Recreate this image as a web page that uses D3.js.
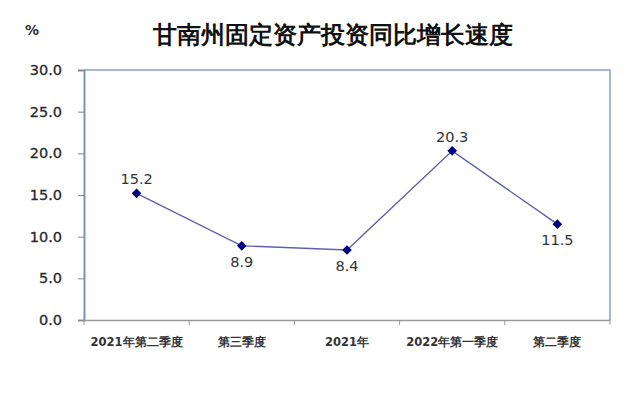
<!DOCTYPE html>
<html>
<head>
<meta charset="utf-8">
<script src="https://cdn.jsdelivr.net/npm/d3@7"></script>
<style>
  body { margin: 0; background: #fff; }
  text { font-family: "DejaVu Sans", sans-serif; }
</style>
</head>
<body>
<div class="chart"></div>
<script>
// chart data
const categories = ["2021年第二季度", "第三季度", "2021年", "2022年第一季度", "第二季度"];
const growth = [15.2, 8.9, 8.4, 20.3, 11.5];
const labelAbove = [true, false, false, true, false];
const yTicks = [0, 5, 10, 15, 20, 25, 30];

const width = 641, height = 396;
const plot = { left: 84, right: 610, top: 70, bottom: 320 };

const svg = d3.select(".chart")
    .append("svg")
    .attr("width", width)
    .attr("height", height)
    .attr("viewBox", [0, 0, width, height]);

const x = d3.scaleBand()
    .domain(categories)
    .range([plot.left, plot.right]);

const y = d3.scaleLinear()
    .domain([0, 30])
    .range([plot.bottom, plot.top]);

// title and unit
svg.append("text")
    .attr("x", 333).attr("y", 43)
    .attr("text-anchor", "middle")
    .attr("font-family", "Noto Sans CJK SC")
    .attr("font-size", 23.5)
    .attr("font-weight", "bold")
    .attr("fill", "#111")
    .text("甘南州固定资产投资同比增长速度");

svg.append("text")
    .attr("x", 25).attr("y", 35)
    .attr("font-size", 14)
    .attr("font-weight", "bold")
    .attr("fill", "#333")
    .text("%");

// plot frame (top and right)
svg.append("path")
    .attr("d", `M${plot.left},${plot.top}H${plot.right}V${plot.bottom}`)
    .attr("fill", "none")
    .attr("stroke", "#8aa2c4")
    .attr("stroke-width", 1.5);

// y axis
const yAxis = svg.append("g")
    .attr("transform", `translate(${plot.left},0)`)
    .call(d3.axisLeft(y).tickValues(yTicks).tickFormat(d3.format(".1f")).tickSize(6).tickPadding(16));
yAxis.select(".domain").attr("stroke", "#7f93b0").attr("stroke-width", 2);
yAxis.selectAll(".tick line").attr("stroke", "#888");
yAxis.selectAll(".tick text")
    .attr("font-family", "DejaVu Sans")
    .attr("font-size", 14.5)
    .attr("fill", "#2a2a2a")
    .attr("stroke", "#2a2a2a")
    .attr("stroke-width", 0.3);

// x axis
const xAxis = svg.append("g")
    .attr("transform", `translate(0,${plot.bottom})`)
    .call(d3.axisBottom(x).tickSize(0).tickPadding(18));
xAxis.select(".domain").attr("stroke", "#999").attr("stroke-width", 1.5);
xAxis.selectAll(".tick text")
    .attr("font-family", "Noto Sans CJK SC")
    .attr("font-size", 11.5)
    .attr("font-weight", "bold")
    .attr("fill", "#333");

// category boundary ticks
const bounds = categories.map(c => x(c)).concat([plot.right]);
svg.append("g").selectAll("line")
    .data(bounds)
    .join("line")
    .attr("x1", d => d).attr("x2", d => d)
    .attr("y1", plot.bottom).attr("y2", plot.bottom + 5)
    .attr("stroke", "#999");

const cx = c => x(c) + x.bandwidth() / 2;

// series line
const line = d3.line()
    .x((d, i) => cx(categories[i]))
    .y(d => y(d));

svg.append("path")
    .datum(growth)
    .attr("d", line)
    .attr("fill", "none")
    .attr("stroke", "#5f5fae")
    .attr("stroke-width", 1.4);

// diamond markers
svg.append("g").selectAll("path")
    .data(growth)
    .join("path")
    .attr("transform", (d, i) => `translate(${cx(categories[i])},${y(d)})`)
    .attr("d", d3.symbol(d3.symbolDiamond2, 60))
    .attr("fill", "#000080");

// value labels
svg.append("g").selectAll("text")
    .data(growth)
    .join("text")
    .attr("x", (d, i) => cx(categories[i]))
    .attr("y", (d, i) => labelAbove[i] ? y(d) - 9 : y(d) + 21)
    .attr("text-anchor", "middle")
    .attr("font-size", 14.5)
    .attr("fill", "#333")
    .text(d => d.toFixed(1));
</script>
</body>
</html>
